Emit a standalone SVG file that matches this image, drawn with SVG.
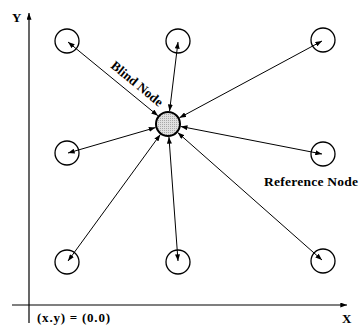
<svg xmlns="http://www.w3.org/2000/svg" width="362" height="326" viewBox="0 0 362 326">
<style>
.ref{fill:none;stroke:#000;stroke-width:1.3}
.conn{stroke:#000;stroke-width:1;fill:none;marker-start:url(#ah);marker-end:url(#ah)}
.axis{stroke:#000;stroke-width:1.2;fill:none;marker-end:url(#ax)}
.t{font-family:"Liberation Serif",serif;font-weight:bold;fill:#000}
</style>
<defs>
<marker id="ah" viewBox="0 0 8 6" refX="8" refY="3" markerWidth="7" markerHeight="5" markerUnits="userSpaceOnUse" orient="auto-start-reverse"><path d="M0,0 L8,3 L0,6 z" fill="#000"/></marker>
<marker id="ax" viewBox="0 0 8 6" refX="8" refY="3" markerWidth="7" markerHeight="5" markerUnits="userSpaceOnUse" orient="auto"><path d="M0,0 L8,3 L0,6 z" fill="#000"/></marker>
<pattern id="dots" width="2" height="2" patternUnits="userSpaceOnUse"><rect width="2" height="2" fill="#e0e0e0"/><rect width="1" height="1" fill="#a8a8a8"/></pattern>
</defs>
<g id="axes">
<line class="axis" x1="29" y1="323" x2="29" y2="13"/>
<line class="axis" x1="12" y1="305" x2="347" y2="305"/>
<text class="t" x="12" y="22" font-size="13" font-weight="normal">Y</text>
<text class="t" x="342" y="323" font-size="13" font-weight="normal">X</text>
<text class="t" x="37" y="322" font-size="13" textLength="73">(x.y) = (0.0)</text>
</g>
<g id="connectors">
<line class="conn" x1="157.95" y1="115.74" x2="68" y2="42"/>
<line class="conn" x1="169.56" y1="111.09" x2="178" y2="42"/>
<line class="conn" x1="179.43" y1="117.81" x2="322" y2="41"/>
<line class="conn" x1="155.5" y1="127.59" x2="68" y2="153"/>
<line class="conn" x1="180.76" y1="126.47" x2="322" y2="154"/>
<line class="conn" x1="160.32" y1="134.49" x2="68" y2="261"/>
<line class="conn" x1="168.94" y1="136.97" x2="178" y2="261"/>
<line class="conn" x1="177.74" y1="132.61" x2="322" y2="260"/>
</g>
<g id="node-tl"><circle class="ref" cx="67" cy="41" r="12"/></g>
<g id="node-tm"><circle class="ref" cx="178" cy="41" r="12"/></g>
<g id="node-tr"><circle class="ref" cx="323" cy="40" r="12"/></g>
<g id="node-ml"><circle class="ref" cx="67" cy="153" r="12"/></g>
<g id="node-mr"><circle class="ref" cx="323" cy="154" r="12"/></g>
<g id="node-bl"><circle class="ref" cx="67" cy="262" r="12"/></g>
<g id="node-bm"><circle class="ref" cx="178" cy="262" r="12"/></g>
<g id="node-br"><circle class="ref" cx="323" cy="261" r="12"/></g>
<g id="blind-node"><circle cx="168" cy="124" r="12" fill="url(#dots)" stroke="#000" stroke-width="2"/></g>
<g id="labels">
<text class="t" font-size="13" transform="translate(110,67) rotate(39.5)" textLength="63">Blind Node</text>
<text class="t" x="264" y="186" font-size="13.5" textLength="94">Reference Node</text>
</g>
</svg>
